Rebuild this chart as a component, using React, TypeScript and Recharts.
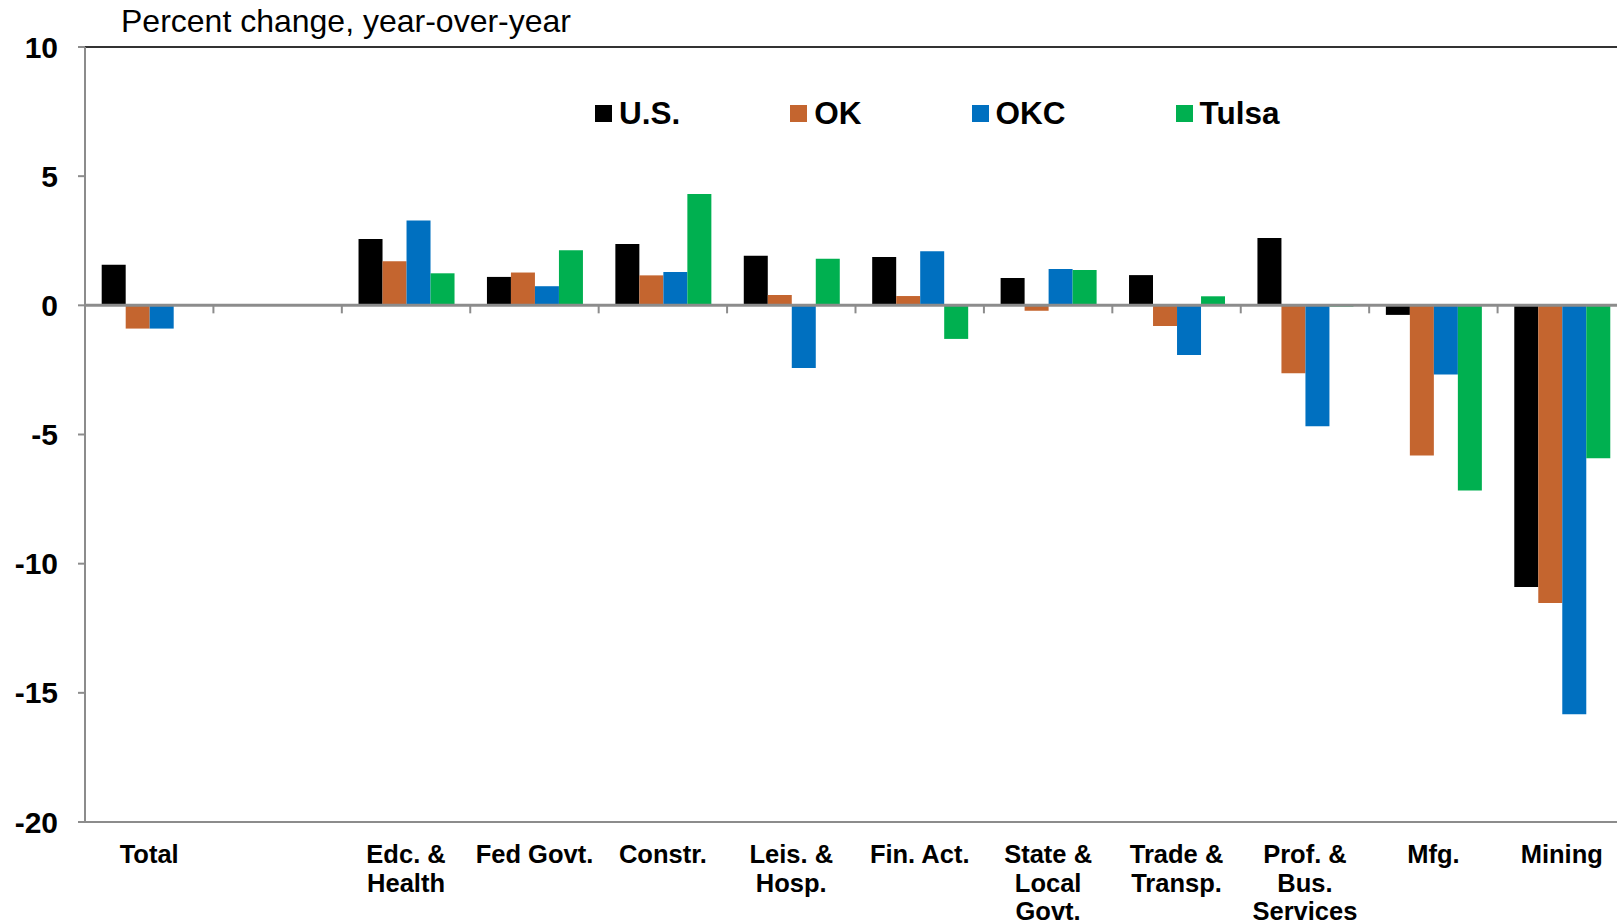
import React from "react";
import {
  BarChart,
  Bar,
  XAxis,
  YAxis,
  ReferenceLine,
  Legend,
} from "recharts";

const categories = [
  "Total",
  "",
  "Edc. &\nHealth",
  "Fed Govt.",
  "Constr.",
  "Leis. &\nHosp.",
  "Fin. Act.",
  "State &\nLocal\nGovt.",
  "Trade &\nTransp.",
  "Prof. &\nBus.\nServices",
  "Mfg.",
  "Mining",
];

const seriesNames = ["U.S.", "OK", "OKC", "Tulsa"];

const us = [1.57, null, 2.57, 1.1, 2.37, 1.92, 1.87, 1.06, 1.17, 2.61, -0.37, -10.9];
const ok = [-0.9, null, 1.71, 1.27, 1.16, 0.4, 0.36, -0.21, -0.8, -2.63, -5.81, -11.52];
const okc = [-0.9, null, 3.28, 0.74, 1.29, -2.43, 2.09, 1.41, -1.92, -4.68, -2.68, -15.83];
const tulsa = [null, null, 1.24, 2.13, 4.31, 1.8, -1.3, 1.37, 0.35, -0.05, -7.17, -5.92];

const yTicks = [-20, -15, -10, -5, 0, 5, 10];

const FONT = "'Liberation Sans', Arial, sans-serif";
const GRAY = "#8c8c8c";

const data = categories.map((name, i) => ({
  name,
  us: us[i],
  ok: ok[i],
  okc: okc[i],
  tulsa: tulsa[i],
}));

// zero line with small ticks at the category boundaries
function ZeroLine(props: any) {
  const { x1, x2, y1 } = props;
  const n = categories.length;
  const step = (x2 - x1) / n;
  const edges = categories.slice(1).map((_, i) => x1 + (i + 1) * step);
  return (
    <g>
      <line x1={x1} x2={x2} y1={y1} y2={y1} stroke={GRAY} strokeWidth={3} />
      {edges.map((ex, i) => (
        <line key={i} x1={ex} x2={ex} y1={y1} y2={y1 + 8} stroke={GRAY} strokeWidth={2} />
      ))}
    </g>
  );
}

function CategoryTick({ x, y, payload }: any) {
  const lines = String(payload.value).split("\n");
  return (
    <text
      x={x}
      y={y}
      textAnchor="middle"
      fontSize={25.5}
      fontWeight="bold"
      fontFamily={FONT}
      fill="#000"
    >
      {lines.map((l, i) => (
        <tspan key={i} x={x} dy={i === 0 ? 41 : 28.5}>
          {l}
        </tspan>
      ))}
    </text>
  );
}

function LegendContent({ payload }: any) {
  const items = [...(payload || [])].sort(
    (a: any, b: any) => seriesNames.indexOf(a.value) - seriesNames.indexOf(b.value)
  );
  return (
    <div style={{ display: "flex", alignItems: "center", gap: 110 }}>
      {items.map((p: any) => (
        <div key={p.value} style={{ display: "flex", alignItems: "center" }}>
          <div
            style={{ width: 17, height: 17, background: p.color, marginRight: 7 }}
          />
          <span
            style={{
              fontFamily: FONT,
              fontWeight: "bold",
              fontSize: 31.5,
              lineHeight: "34px",
              color: "#000",
            }}
          >
            {p.value}
          </span>
        </div>
      ))}
    </div>
  );
}

export default function App() {
  return (
    <div
      style={{
        position: "absolute",
        left: 0,
        top: 0,
        width: 1617,
        height: 923,
        overflow: "hidden",
      }}
    >
      <div
        style={{
          position: "absolute",
          left: 121,
          top: 4,
          fontFamily: FONT,
          fontSize: 32,
          lineHeight: "34px",
          color: "#000",
          zIndex: 2,
          whiteSpace: "nowrap",
        }}
      >
        Percent change, year-over-year
      </div>
      <BarChart
        width={1626}
        height={923}
        data={data}
        margin={{ top: 47, right: 0, left: 0, bottom: 1 }}
        barCategoryGap="13%"
        barGap={0}
      >
        <XAxis
          dataKey="name"
          height={100}
          interval={0}
          tickLine={false}
          tickSize={0}
          tickMargin={0}
          axisLine={{ stroke: GRAY, strokeWidth: 2 }}
          tick={<CategoryTick />}
        />
        <YAxis
          width={85}
          domain={[-20, 10]}
          ticks={yTicks}
          interval={0}
          tickSize={7}
          tickMargin={20}
          axisLine={{ stroke: GRAY, strokeWidth: 2 }}
          tickLine={{ stroke: GRAY, strokeWidth: 2 }}
          tick={{ fontSize: 30, fontWeight: "bold", fill: "#000", fontFamily: FONT }}
        />
        <Legend
          layout="horizontal"
          verticalAlign="middle"
          align="center"
          wrapperStyle={{ top: 96, left: 595, width: "auto" }}
          content={<LegendContent />}
        />
        <Bar dataKey="us" name="U.S." fill="#000000" isAnimationActive={false} />
        <Bar dataKey="ok" name="OK" fill="#C4652F" isAnimationActive={false} />
        <Bar dataKey="okc" name="OKC" fill="#0070C0" isAnimationActive={false} />
        <Bar dataKey="tulsa" name="Tulsa" fill="#00B050" isAnimationActive={false} />
        <ReferenceLine y={10} stroke="#333333" strokeWidth={2} />
        <ReferenceLine y={0} shape={<ZeroLine />} />
      </BarChart>
    </div>
  );
}
